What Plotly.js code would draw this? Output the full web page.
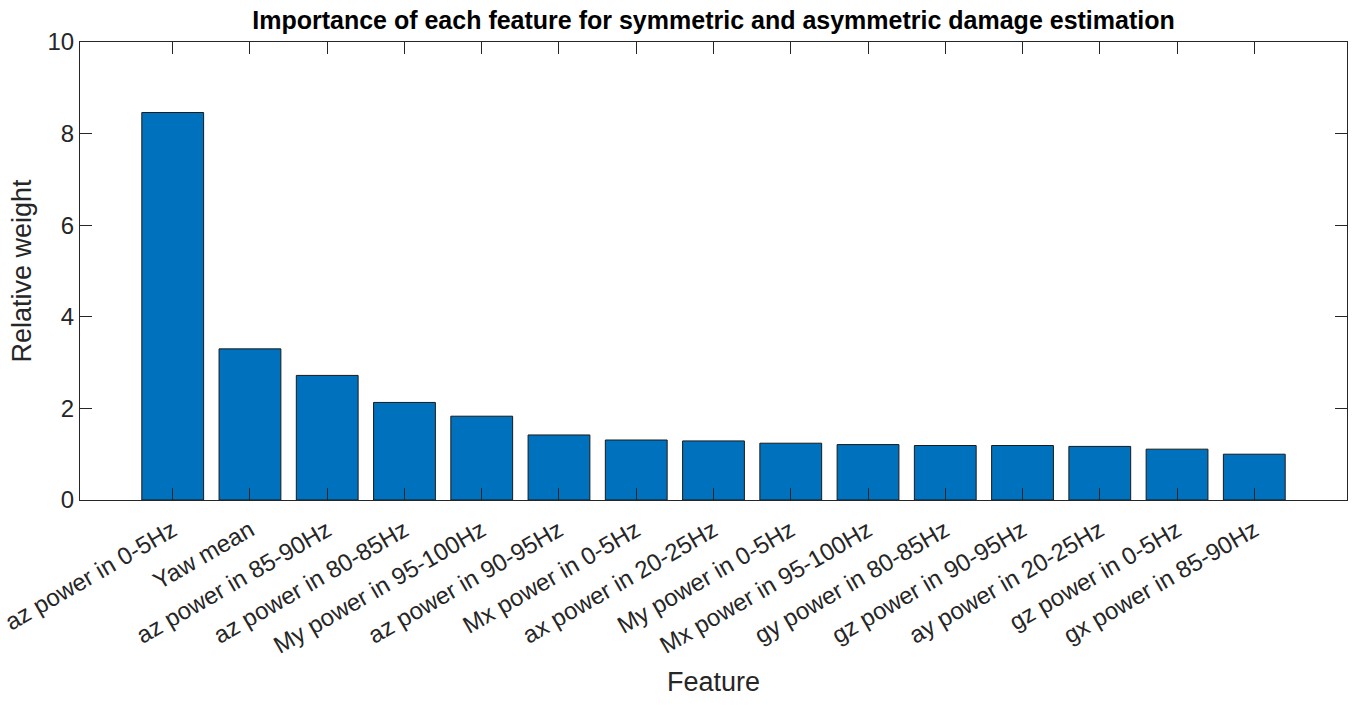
<!DOCTYPE html>
<html>
<head>
<meta charset="utf-8">
<script src="https://cdn.plot.ly/plotly-3.0.1.min.js"></script>
<style>
  html, body { margin: 0; padding: 0; background: #fff; }
  #chart { width: 1356px; height: 705px; }
</style>
</head>
<body>
<div id="chart"></div>
<script>
const features = [
  'az power in 0-5Hz', 'Yaw mean', 'az power in 85-90Hz', 'az power in 80-85Hz',
  'My power in 95-100Hz', 'az power in 90-95Hz', 'Mx power in 0-5Hz', 'ax power in 20-25Hz',
  'My power in 0-5Hz', 'Mx power in 95-100Hz', 'gy power in 80-85Hz', 'gz power in 90-95Hz',
  'ay power in 20-25Hz', 'gz power in 0-5Hz', 'gx power in 85-90Hz'
]
const weights = [8.46, 3.30, 2.72, 2.13, 1.83, 1.42, 1.31, 1.29, 1.24, 1.21, 1.19, 1.19, 1.17, 1.11, 1.00]
const yTicks = [0, 2, 4, 6, 8, 10]

const AXIS_COLOR = '#262626'
const FONT = 'Liberation Sans, Arial, Helvetica, sans-serif'

const traces = [
  {
    type: 'bar',
    x: features,
    y: weights,
    marker: { color: '#0072BD', line: { color: '#1a1a1a', width: 1 } },
    hoverinfo: 'x+y'
  }
]

const layout = {
  width: 1356,
  height: 705,
  margin: { l: 80, r: 9, t: 42, b: 205 },
  paper_bgcolor: '#ffffff',
  plot_bgcolor: '#ffffff',
  bargap: 0.2,
  showlegend: false,
  font: { family: FONT, color: AXIS_COLOR },
  title: {
    text: '<b>Importance of each feature for symmetric and asymmetric damage estimation</b>',
    font: { family: FONT, size: 25, color: '#000000' },
    x: 0.5,
    xref: 'paper',
    xanchor: 'center',
    y: 1,
    yref: 'container',
    yanchor: 'top',
    pad: { t: 11 }
  },
  xaxis: {
    type: 'category',
    range: [-1.2, 15.2],
    showline: true,
    linecolor: AXIS_COLOR,
    linewidth: 1,
    mirror: 'ticks',
    ticks: 'inside',
    ticklen: 12,
    tickcolor: AXIS_COLOR,
    tickangle: -30,
    ticklabelstandoff: 6,
    tickfont: { family: FONT, size: 24, color: AXIS_COLOR },
    showgrid: false,
    zeroline: false,
    title: { text: 'Feature', font: { family: FONT, size: 27, color: AXIS_COLOR }, standoff: 14 }
  },
  yaxis: {
    range: [0, 10],
    tickvals: yTicks,
    showline: true,
    linecolor: AXIS_COLOR,
    linewidth: 1,
    mirror: 'ticks',
    ticks: 'inside',
    ticklen: 12,
    tickcolor: AXIS_COLOR,
    tickfont: { family: FONT, size: 24, color: AXIS_COLOR },
    showgrid: false,
    zeroline: false,
    title: { text: 'Relative weight', font: { family: FONT, size: 27, color: AXIS_COLOR }, standoff: 8 }
  }
}

Plotly.newPlot('chart', traces, layout, { displayModeBar: false, staticPlot: true })
</script>
</body>
</html>
